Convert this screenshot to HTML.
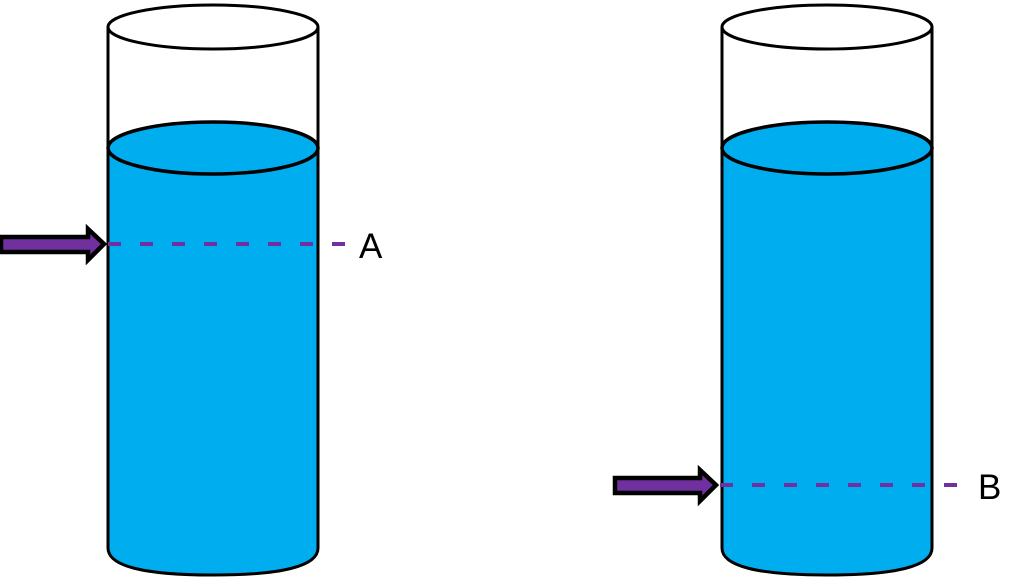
<!DOCTYPE html>
<html><head><style>body{margin:0;background:#fff}svg{display:block}</style></head><body>
<svg width="1024" height="577" viewBox="0 0 1024 577" xmlns="http://www.w3.org/2000/svg">
<g id="cyl">
<path d="M108,148 L108,548 Q108,575 213,575 Q318,575 318,548 L318,148 Z" fill="#00adef" stroke="#000" stroke-width="3"/>
<path d="M108,27 L108,148 M318,27 L318,148" stroke="#000" stroke-width="3" fill="none"/>
<ellipse cx="213" cy="27" rx="105" ry="22" fill="#fff" stroke="#000" stroke-width="3"/>
<ellipse cx="213" cy="148" rx="105" ry="26" fill="#00adef" stroke="#000" stroke-width="3.5"/>
</g>
<use href="#cyl" transform="translate(614,0)"/>
<path d="M1,237 L88,237 L88,229 L104,244 L88,260 L88,252 L1,252 Z" fill="#7030a0" stroke="#000" stroke-width="4.5" stroke-linejoin="miter"/>
<line x1="108" y1="244" x2="352" y2="244" stroke="#7030a0" stroke-width="4" stroke-dasharray="13,19"/>
<text x="359" y="258" font-family="Liberation Sans, sans-serif" font-size="35" fill="#000">A</text>
<path d="M615,478 L700,478 L700,470 L716,485 L700,501 L700,493 L615,493 Z" fill="#7030a0" stroke="#000" stroke-width="4.5"/>
<line x1="720" y1="485" x2="965" y2="485" stroke="#7030a0" stroke-width="4" stroke-dasharray="13,19"/>
<text x="978" y="499" font-family="Liberation Sans, sans-serif" font-size="35" fill="#000">B</text>
</svg>
</body></html>
